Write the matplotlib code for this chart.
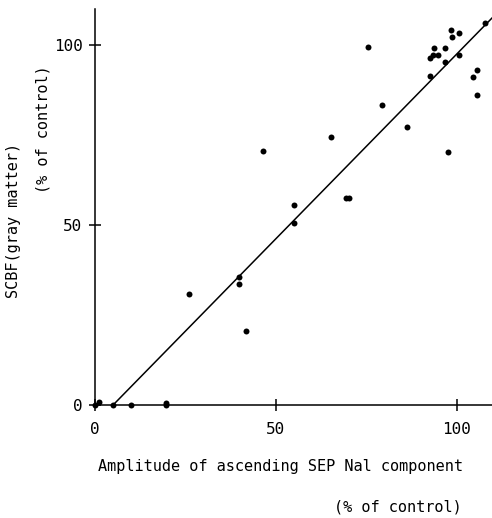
import matplotlib
matplotlib.use("Agg")
import matplotlib.pyplot as plt

# Data
sep_amplitude = [107.7, 98.5, 100.6, 98.7, 93.6, 96.6, 75.4, 93.3, 94.7, 92.5,
                 100.6, 96.7, 92.6, 105.5, 104.5, 105.5, 79.4, 86.3, 65.2, 46.3,
                 97.5, 69.3, 70.2, 55.1, 55.1, 26.0, 39.8, 39.8, 41.7, 0.0,
                 1.2, 5.0, 9.9, 19.6, 19.6]
scbf_gray = [106.2, 104.2, 103.3, 102.3, 99.3, 99.2, 99.4, 97.2, 97.2, 96.3,
             97.1, 95.2, 91.3, 93.1, 91.0, 86.0, 83.3, 77.2, 74.5, 70.6,
             70.2, 57.4, 57.4, 55.6, 50.6, 30.8, 35.5, 33.6, 20.6, 0.0,
             0.9, 0.0, 0.0, 0.6, 0.0]
fit_x = [5.0, 110.0]
fit_y = [0.0, 107.8]
x_ticks = [0, 50, 100]
y_ticks = [0, 50, 100]

W, H = 492, 518
fig = plt.figure(figsize=(W / 100, H / 100), dpi=100)
left = 95 / W
bottom = (H - 405) / H
ax = fig.add_axes([left, bottom, (W - 95) / W, 396 / H])

font = "DejaVu Sans Mono"

ax.plot(fit_x, fit_y, color="black", lw=1.1, solid_capstyle="butt")
ax.plot(sep_amplitude, scbf_gray, "o", color="black", markersize=4.3,
        markeredgewidth=0, clip_on=False, zorder=3)

ax.set_xlim(0, 109.7)
ax.set_ylim(0, 110)
for s in ("top", "right"):
    ax.spines[s].set_visible(False)
for s in ("left", "bottom"):
    ax.spines[s].set_linewidth(1.1)

ax.set_xticks(x_ticks)
ax.set_yticks(y_ticks)
ax.tick_params(axis="both", direction="inout", length=8, width=1.1,
               labelsize=11.5)
ax.tick_params(axis="x", pad=8)
ax.tick_params(axis="y", pad=5)
for lab in ax.get_xticklabels() + ax.get_yticklabels():
    lab.set_family(font)

fig.text(281 / W, 1 - 467 / H, "Amplitude of ascending SEP Nal component",
         ha="center", va="center", family=font, fontsize=11)
fig.text(462 / W, 1 - 507 / H, "(% of control)",
         ha="right", va="center", family=font, fontsize=11)
fig.text(14 / W, 1 - 220 / H, "SCBF(gray matter)", rotation=90,
         ha="center", va="center", family=font, fontsize=11)
fig.text(43 / W, 1 - 129 / H, "(% of control)", rotation=90,
         ha="center", va="center", family=font, fontsize=11)

fig.savefig("out.png", dpi=100)
